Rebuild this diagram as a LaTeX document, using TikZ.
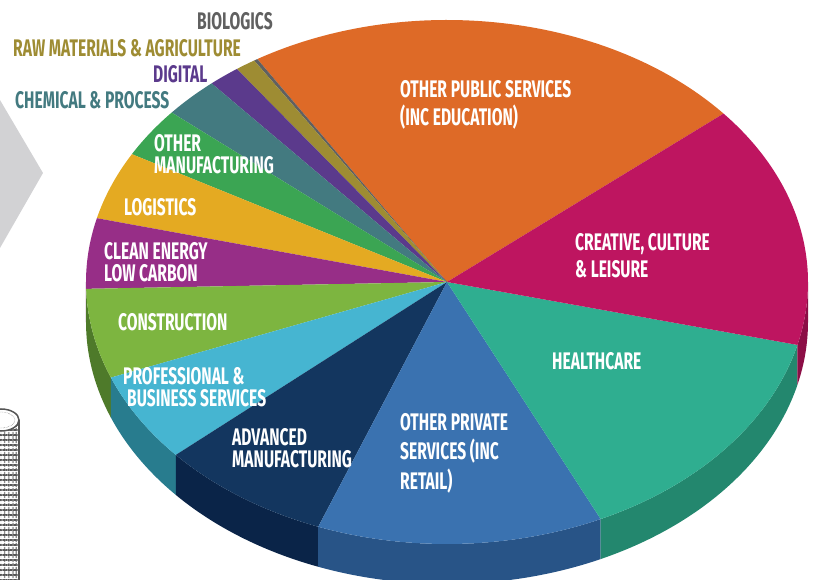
\documentclass[tikz,border=0pt]{standalone}
\usepackage{fontspec}
\newfontfamily\labfont{Fira Sans}[FakeStretch=0.65]
\usetikzlibrary{patterns.meta}
\definecolor{cPublic}{RGB}{222,106,39}
\definecolor{cCreative}{RGB}{190,21,96}
\definecolor{cHealth}{RGB}{47,174,144}
\definecolor{cPrivate}{RGB}{58,114,176}
\definecolor{cAdvanced}{RGB}{19,54,95}
\definecolor{cProf}{RGB}{70,181,209}
\definecolor{cConstr}{RGB}{125,181,64}
\definecolor{cClean}{RGB}{151,46,135}
\definecolor{cLogist}{RGB}{228,170,34}
\definecolor{cOtherMan}{RGB}{59,165,83}
\definecolor{cChem}{RGB}{67,122,128}
\definecolor{cDigital}{RGB}{91,58,140}
\definecolor{cRaw}{RGB}{158,140,51}
\definecolor{cBio}{RGB}{96,96,96}
\definecolor{sCreative}{RGB}{140,14,70}
\definecolor{sHealth}{RGB}{35,135,110}
\definecolor{sPrivate}{RGB}{40,84,135}
\definecolor{sAdvanced}{RGB}{10,36,72}
\definecolor{sProf}{RGB}{40,124,142}
\definecolor{sConstr}{RGB}{78,122,42}
\definecolor{sClean}{RGB}{110,30,100}
\definecolor{cChevron}{RGB}{210,210,212}
\definecolor{cCyl}{RGB}{85,85,85}
\begin{document}
\begin{tikzpicture}[x=1pt,y=1pt,
  lab/.style={font=\labfont\bfseries\fontsize{24}{24}\selectfont, text=white, anchor=north west, inner sep=0pt, align=left},
  outlab/.style={lab, text=#1}]
\useasboundingbox (-447,-298) rectangle (369,282);

\fill[cChevron] (-447,182) -- (-404,109) -- (-447,34) -- cycle;

\fill[white] (-470,-298) rectangle (-428,-138);
\fill[pattern={Lines[distance=5pt, angle=0, line width=1.6pt]}, pattern color=cCyl] (-464,-298) rectangle (-428,-138);
\fill[pattern={Lines[distance=4pt, angle=90, line width=1.3pt]}, pattern color=cCyl] (-464,-298) rectangle (-428,-138);
\draw[cCyl, line width=1.5pt] (-428,-138) -- (-428,-298);
\draw[cCyl, line width=1.5pt, fill=white] (-446,-138) ellipse[x radius=18, y radius=11];
\draw[cCyl, densely dotted] (-446,-138) ellipse[x radius=14, y radius=8];

\fill[sClean] (180:361 and 262) arc[start angle=180, end angle=181.5, x radius=361, y radius=262] -- ++(0,-40) arc[start angle=181.5, end angle=180, x radius=361, y radius=262] -- cycle;
\fill[sConstr] (181.5:361 and 262) arc[start angle=181.5, end angle=201.4, x radius=361, y radius=262] -- ++(0,-40) arc[start angle=201.4, end angle=181.5, x radius=361, y radius=262] -- cycle;
\fill[sProf] (201.4:361 and 262) arc[start angle=201.4, end angle=221.3, x radius=361, y radius=262] -- ++(0,-40) arc[start angle=221.3, end angle=201.4, x radius=361, y radius=262] -- cycle;
\fill[sAdvanced] (221.3:361 and 262) arc[start angle=221.3, end angle=249.1, x radius=361, y radius=262] -- ++(0,-40) arc[start angle=249.1, end angle=221.3, x radius=361, y radius=262] -- cycle;
\fill[sPrivate] (249.1:361 and 262) arc[start angle=249.1, end angle=295.2, x radius=361, y radius=262] -- ++(0,-40) arc[start angle=295.2, end angle=249.1, x radius=361, y radius=262] -- cycle;
\fill[sHealth] (295.2:361 and 262) arc[start angle=295.2, end angle=346.1, x radius=361, y radius=262] -- ++(0,-40) arc[start angle=346.1, end angle=295.2, x radius=361, y radius=262] -- cycle;
\fill[sCreative] (346.1:361 and 262) arc[start angle=346.1, end angle=360, x radius=361, y radius=262] -- ++(0,-40) arc[start angle=360, end angle=346.1, x radius=361, y radius=262] -- cycle;

\fill[cPublic] (0,0) -- (40:361 and 262) arc[start angle=40, end angle=121.7, x radius=361, y radius=262] -- cycle;
\fill[cBio] (0,0) -- (121.7:361 and 262) arc[start angle=121.7, end angle=122.3, x radius=361, y radius=262] -- cycle;
\fill[cRaw] (0,0) -- (122.3:361 and 262) arc[start angle=122.3, end angle=125.6, x radius=361, y radius=262] -- cycle;
\fill[cDigital] (0,0) -- (125.6:361 and 262) arc[start angle=125.6, end angle=130.7, x radius=361, y radius=262] -- cycle;
\fill[cChem] (0,0) -- (130.7:361 and 262) arc[start angle=130.7, end angle=139.7, x radius=361, y radius=262] -- cycle;
\fill[cOtherMan] (0,0) -- (139.7:361 and 262) arc[start angle=139.7, end angle=150.8, x radius=361, y radius=262] -- cycle;
\fill[cLogist] (0,0) -- (150.8:361 and 262) arc[start angle=150.8, end angle=165.9, x radius=361, y radius=262] -- cycle;
\fill[cClean] (0,0) -- (165.9:361 and 262) arc[start angle=165.9, end angle=181.5, x radius=361, y radius=262] -- cycle;
\fill[cConstr] (0,0) -- (181.5:361 and 262) arc[start angle=181.5, end angle=201.4, x radius=361, y radius=262] -- cycle;
\fill[cProf] (0,0) -- (201.4:361 and 262) arc[start angle=201.4, end angle=221.3, x radius=361, y radius=262] -- cycle;
\fill[cAdvanced] (0,0) -- (221.3:361 and 262) arc[start angle=221.3, end angle=249.1, x radius=361, y radius=262] -- cycle;
\fill[cPrivate] (0,0) -- (249.1:361 and 262) arc[start angle=249.1, end angle=295.2, x radius=361, y radius=262] -- cycle;
\fill[cHealth] (0,0) -- (295.2:361 and 262) arc[start angle=295.2, end angle=346.1, x radius=361, y radius=262] -- cycle;
\fill[cCreative] (0,0) -- (346.1:361 and 262) arc[start angle=346.1, end angle=400, x radius=361, y radius=262] -- cycle;

\node[outlab=cBio] (bio) at (-250,270) {BIOLOGICS};
\node[outlab=cRaw] (raw) at (-434,243) {RAW MATERIALS \& AGRICULTURE};
\node[outlab=cDigital] (digital) at (-294,217) {DIGITAL};
\node[outlab=cChem] (chem) at (-432,191) {CHEMICAL \& PROCESS};

\node[lab, font=\labfont\bfseries\fontsize{24}{22}\selectfont] (otherman) at (-293,148) {OTHER\\MANUFACTURING};
\node[lab] (logist) at (-323,84) {LOGISTICS};
\node[lab, font=\labfont\bfseries\fontsize{24}{22}\selectfont] (clean) at (-343,40) {CLEAN ENERGY\\LOW CARBON};
\node[lab] (constr) at (-329,-31) {CONSTRUCTION};
\node[lab, font=\labfont\bfseries\fontsize{24}{22.5}\selectfont] (prof) at (-324,-85) {PROFESSIONAL \&\\\hspace*{4pt}BUSINESS SERVICES};
\node[lab, font=\labfont\bfseries\fontsize{24}{22}\selectfont] (advanced) at (-215,-146) {ADVANCED\\MANUFACTURING};
\node[lab, font=\labfont\bfseries\fontsize{24}{29.5}\selectfont] (private) at (-47,-131) {OTHER PRIVATE\\SERVICES (INC\\RETAIL)};
\node[lab] (health) at (105,-70) {HEALTHCARE};
\node[lab, font=\labfont\bfseries\fontsize{24}{27}\selectfont] (creative) at (128,49) {CREATIVE, CULTURE\\\& LEISURE};
\node[lab, font=\labfont\bfseries\fontsize{24}{28}\selectfont] (public) at (-47,202) {OTHER PUBLIC SERVICES\\(INC EDUCATION)};

\end{tikzpicture}
\end{document}
